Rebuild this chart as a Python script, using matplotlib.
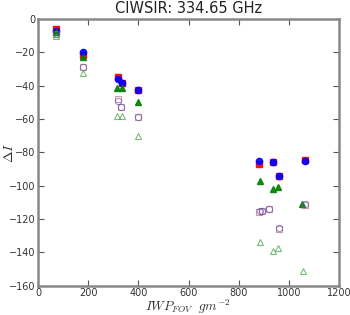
import matplotlib
matplotlib.use("Agg")
import matplotlib.pyplot as plt

plt.rcParams['mathtext.fontset'] = 'cm'

# Data
red_sq_x = [70, 181, 318, 336, 399, 881, 936, 962, 1064]
red_sq_y = [-6, -21.5, -35, -38.5, -42.5, -87, -86, -94, -84.5]
blue_ci_x = [70, 181, 318, 336, 399, 881, 936, 962, 1064]
blue_ci_y = [-7, -20, -36, -38.5, -42.5, -85.5, -86, -94, -85]
green_tr_x = [70, 181, 316, 336, 399, 885, 936, 956, 1051]
green_tr_y = [-8, -23, -41.5, -41.5, -50, -97.3, -102, -100.6, -111]
open_sq_x = [70, 181, 318, 330, 399, 881, 893, 922, 962, 1064]
open_sq_y = [-9, -29, -48, -53, -58.7, -115.8, -115.5, -113.8, -126, -111.6]
open_ci_x = [70, 181, 318, 330, 399, 885, 893, 922, 962, 1064]
open_ci_y = [-9, -29, -49.5, -53, -58.7, -115.5, -115.5, -114, -125.5, -111]
open_tr_x = [70, 181, 316, 336, 399, 885, 936, 956, 1055]
open_tr_y = [-10, -32.5, -58.5, -58.5, -70, -133.6, -139, -137.6, -151.4]

xticks = [0, 200, 400, 600, 800, 1000, 1200]
yticks = [0, -20, -40, -60, -80, -100, -120, -140, -160]

fig = plt.figure(figsize=(3.5, 3.15), dpi=100)
ax = fig.add_axes([38 / 350, 1 - 285.5 / 315, 301 / 350, 266.5 / 315])

ms = 4.5
ax.plot(red_sq_x, red_sq_y, 's', color='red', ms=ms, mec='red', alpha=0.9)
ax.plot(blue_ci_x, blue_ci_y, 'o', color='blue', ms=ms, mec='blue', alpha=0.9)
ax.plot(green_tr_x, green_tr_y, '^', color='green', ms=ms, mec='green', alpha=0.9)
ax.plot(open_sq_x, open_sq_y, 's', mfc='none', mec='#c05050', ms=ms, mew=0.8, alpha=0.6)
ax.plot(open_ci_x, open_ci_y, 'o', mfc='none', mec='#5050c0', ms=ms, mew=0.8, alpha=0.6)
ax.plot(open_tr_x, open_tr_y, '^', mfc='none', mec='#40a040', ms=ms, mew=0.8, alpha=0.7)

ax.set_xlim(0, 1200)
ax.set_ylim(-160, 0)
ax.set_xticks(xticks)
ax.set_yticks(yticks)
ax.tick_params(direction='in', top=True, right=True, labelsize=7, colors='#555555',
               labelcolor='#333333', length=4, width=0.8, pad=2)
for s in ax.spines.values():
    s.set_color('#888888')
    s.set_linewidth(1.8)

ax.set_title('CIWSIR: 334.65 GHz', fontsize=10.5, color='#222222', pad=4)
fig.text(188 / 350, 1 - 297.5 / 315, r'$IWP_{FOV}\ \ gm^{-2}$', fontsize=9.5,
         color='#333333', ha='center', va='top')
fig.text(9 / 350, 1 - 153 / 315, r'$\Delta I$', fontsize=10, color='#333333',
         ha='center', va='center', rotation=90)

fig.savefig('out.png', dpi=100)
